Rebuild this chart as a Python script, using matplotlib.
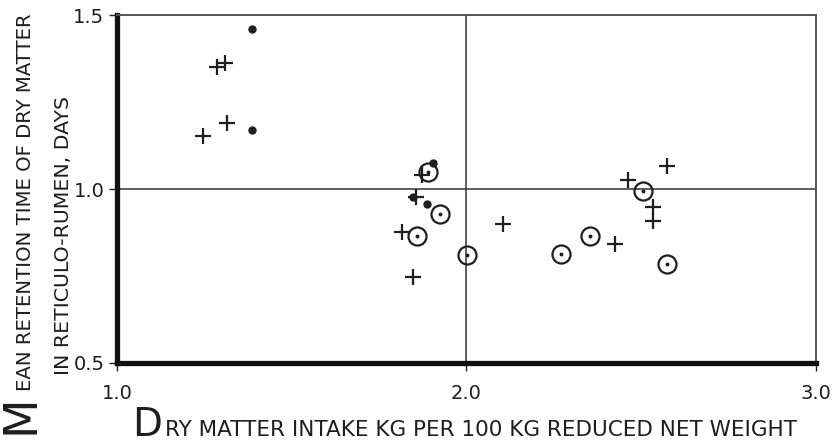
import matplotlib
matplotlib.use('Agg')
import matplotlib.pyplot as plt

# data
cross_x = [1.286, 1.309, 1.315, 1.246, 1.873, 1.855, 1.815, 1.846, 2.104, 2.462, 2.574, 2.534, 2.534, 2.425]
cross_y = [1.350, 1.362, 1.189, 1.151, 1.039, 0.976, 0.876, 0.746, 0.898, 1.027, 1.065, 0.947, 0.909, 0.843]

circle_x = [1.890, 1.924, 1.859, 2.002, 2.505, 2.353, 2.270, 2.574]
circle_y = [1.048, 0.929, 0.864, 0.810, 0.993, 0.866, 0.814, 0.785]

dot_x = [1.386, 1.386, 1.904, 1.847, 1.887]
dot_y = [1.460, 1.169, 1.076, 0.976, 0.958]

x_ticks = [1.0, 2.0, 3.0]
x_ticklabels = ['1.0', '2.0', '3.0']
y_ticks = [0.5, 1.0, 1.5]
y_ticklabels = ['0.5', '1.0', '1.5']

ink = '#1e1e1e'
W, H = 837, 445
plt.rcParams['font.family'] = ['DejaVu Sans']

fig = plt.figure(figsize=(W / 100, H / 100), dpi=100)
ax = fig.add_axes([117 / W, 1 - 363 / H, (816 - 117) / W, (363 - 15) / H])
ax.set_xlim(1.0, 3.0)
ax.set_ylim(0.5, 1.5)

# reference lines
ax.axhline(1.0, color='#333333', lw=1.1, zorder=1)
ax.axvline(2.0, color='#333333', lw=1.1, zorder=1)

ax.plot(cross_x, cross_y, ls='none', marker='+', ms=12, mew=1.6, color=ink, zorder=3)
ax.plot(circle_x, circle_y, ls='none', marker='o', ms=13, mew=1.6, mfc='none', mec=ink, zorder=3)
ax.plot(circle_x, circle_y, ls='none', marker='o', ms=1.8, color=ink, zorder=3)
ax.plot(dot_x, dot_y, ls='none', marker='o', ms=5, color=ink, zorder=3)

for side in ['left', 'bottom']:
    ax.spines[side].set_linewidth(3.8)
    ax.spines[side].set_color('#111111')
for side in ['top', 'right']:
    ax.spines[side].set_linewidth(1.4)
    ax.spines[side].set_color('#555555')

ax.set_xticks(x_ticks)
ax.set_xticklabels(x_ticklabels)
ax.set_yticks(y_ticks)
ax.set_yticklabels(y_ticklabels)
ax.tick_params(axis='both', direction='out', length=6, width=1, color=ink,
               labelsize=14, labelcolor=ink)
ax.tick_params(axis='x', pad=9)
ax.tick_params(axis='y', pad=3)

fig.canvas.draw()
r = fig.canvas.get_renderer()


def fit(t, length, vertical=False):
    # shrink a text so it spans the given length in pixels
    bb = t.get_window_extent(r)
    cur = bb.height if vertical else bb.width
    t.set_fontsize(t.get_fontsize() * length / cur)


# hand-lettered style axis titles: big first letter + small capitals
big = fig.text(132 / W, 1 - 436 / H, 'D', fontsize=28, color=ink, ha='left', va='baseline')
bb = big.get_window_extent(r)
xl = fig.text((bb.x1 + 3) / W, 1 - 436 / H, 'RY MATTER INTAKE KG PER 100 KG REDUCED NET WEIGHT',
              fontsize=17, color=ink, ha='left', va='baseline')
fit(xl, 800 - bb.x1 - 3)

bigm = fig.text(34 / W, 1 - 434 / H, 'M', fontsize=33, color=ink, rotation=90,
                rotation_mode='anchor', ha='left', va='baseline')
bb = bigm.get_window_extent(r)
yl1 = fig.text(31 / W, (bb.y1 + 3) / H, 'EAN RETENTION TIME OF DRY MATTER', fontsize=17, color=ink,
               rotation=90, rotation_mode='anchor', ha='left', va='baseline')
fit(yl1, (H - 10) - bb.y1 - 3, vertical=True)
yl2 = fig.text(69 / W, 1 - 375 / H, 'IN RETICULO-RUMEN, DAYS', fontsize=17, color=ink,
               rotation=90, rotation_mode='anchor', ha='left', va='baseline')
fit(yl2, 280, vertical=True)

fig.savefig('out.png', dpi=100)
plt.close(fig)
